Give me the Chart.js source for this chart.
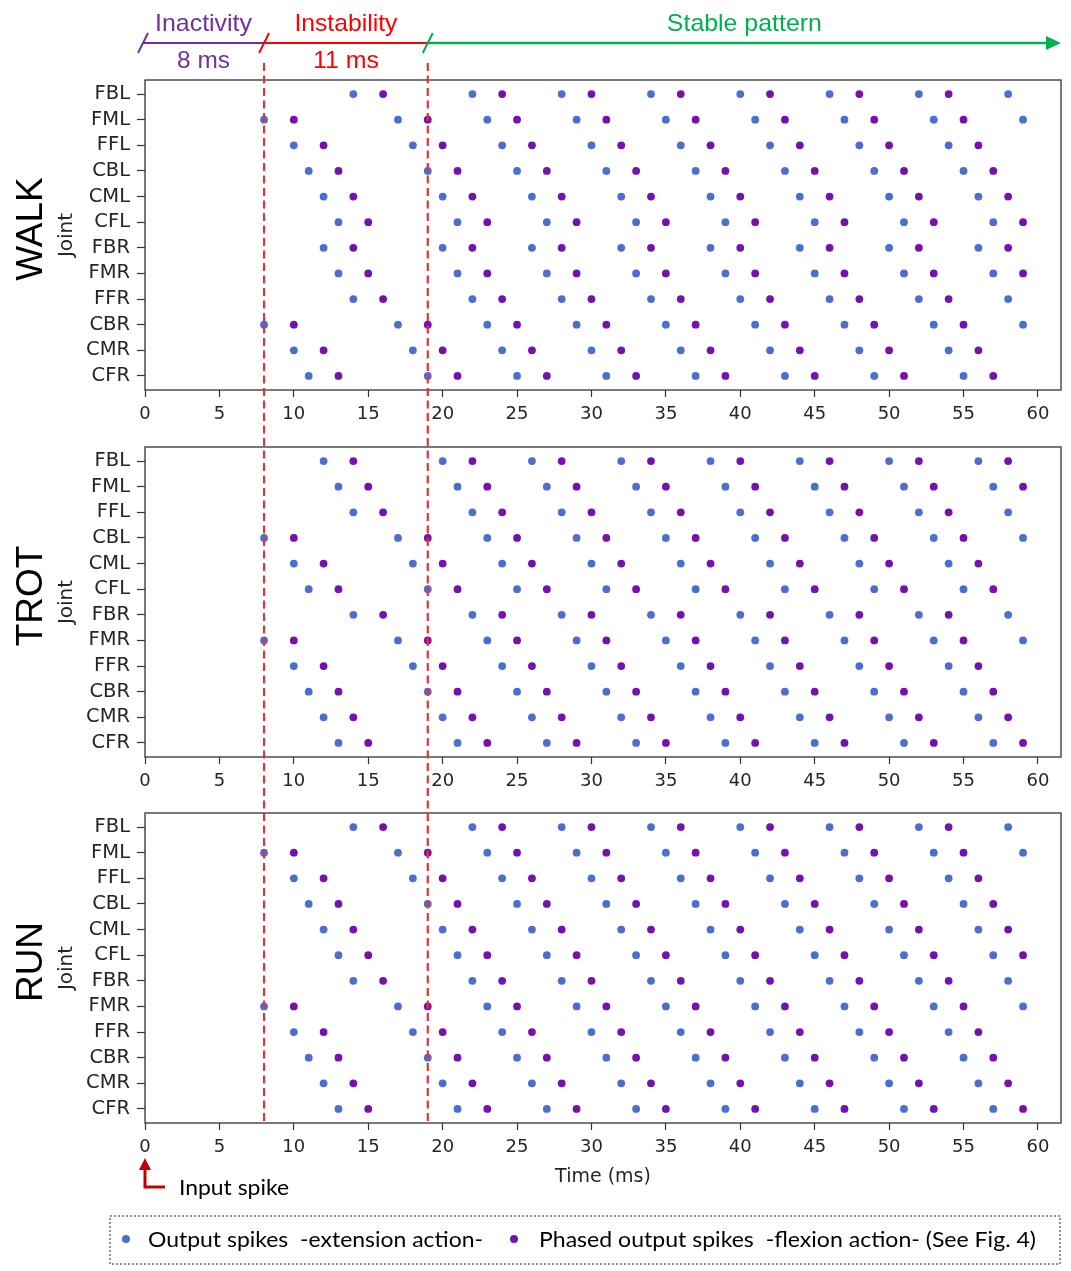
<!DOCTYPE html>
<html>
<head>
<meta charset="utf-8">
<script src="https://cdn.jsdelivr.net/npm/chart.js@4.4.1/dist/chart.umd.min.js"></script>
<style>
  body { margin: 0; background: #fff; }
  #page { position: relative; width: 1071px; height: 1271px; overflow: hidden; }
  #page canvas { position: absolute; left: 0; }
  #overlay { position: absolute; left: 0; top: 0; pointer-events: none; }
</style>
</head>
<body>
<div id="page">
  <canvas id="walk" width="1071" height="367" style="top:68px"></canvas>
  <canvas id="trot" width="1071" height="367" style="top:435px"></canvas>
  <canvas id="run" width="1071" height="392" style="top:801px"></canvas>
  <svg id="overlay" width="1071" height="1271"></svg>
</div>
<script>
// joints, top to bottom
const joints = ['FBL', 'FML', 'FFL', 'CBL', 'CML', 'CFL', 'FBR', 'FMR', 'FFR', 'CBR', 'CMR', 'CFR'];
const xTicks = [0, 5, 10, 15, 20, 25, 30, 35, 40, 45, 50, 55, 60];
const gaits = ['WALK', 'TROT', 'RUN'];
const inactivityEnd = 8;
const instabilityEnd = 19;

// spike times (ms) per joint row
const walkExt = [
  [14, 22, 28, 34, 40, 46, 52, 58],
  [8, 17, 23, 29, 35, 41, 47, 53, 59],
  [10, 18, 24, 30, 36, 42, 48, 54],
  [11, 19, 25, 31, 37, 43, 49, 55],
  [12, 20, 26, 32, 38, 44, 50, 56],
  [13, 21, 27, 33, 39, 45, 51, 57],
  [12, 20, 26, 32, 38, 44, 50, 56],
  [13, 21, 27, 33, 39, 45, 51, 57],
  [14, 22, 28, 34, 40, 46, 52, 58],
  [8, 17, 23, 29, 35, 41, 47, 53, 59],
  [10, 18, 24, 30, 36, 42, 48, 54],
  [11, 19, 25, 31, 37, 43, 49, 55]
];
const walkFlex = [
  [16, 24, 30, 36, 42, 48, 54],
  [10, 19, 25, 31, 37, 43, 49, 55],
  [12, 20, 26, 32, 38, 44, 50, 56],
  [13, 21, 27, 33, 39, 45, 51, 57],
  [14, 22, 28, 34, 40, 46, 52, 58],
  [15, 23, 29, 35, 41, 47, 53, 59],
  [14, 22, 28, 34, 40, 46, 52, 58],
  [15, 23, 29, 35, 41, 47, 53, 59],
  [16, 24, 30, 36, 42, 48, 54],
  [10, 19, 25, 31, 37, 43, 49, 55],
  [12, 20, 26, 32, 38, 44, 50, 56],
  [13, 21, 27, 33, 39, 45, 51, 57]
];

const trotExt = [
  [12, 20, 26, 32, 38, 44, 50, 56],
  [13, 21, 27, 33, 39, 45, 51, 57],
  [14, 22, 28, 34, 40, 46, 52, 58],
  [8, 17, 23, 29, 35, 41, 47, 53, 59],
  [10, 18, 24, 30, 36, 42, 48, 54],
  [11, 19, 25, 31, 37, 43, 49, 55],
  [14, 22, 28, 34, 40, 46, 52, 58],
  [8, 17, 23, 29, 35, 41, 47, 53, 59],
  [10, 18, 24, 30, 36, 42, 48, 54],
  [11, 19, 25, 31, 37, 43, 49, 55],
  [12, 20, 26, 32, 38, 44, 50, 56],
  [13, 21, 27, 33, 39, 45, 51, 57]
];
const trotFlex = [
  [14, 22, 28, 34, 40, 46, 52, 58],
  [15, 23, 29, 35, 41, 47, 53, 59],
  [16, 24, 30, 36, 42, 48, 54],
  [10, 19, 25, 31, 37, 43, 49, 55],
  [12, 20, 26, 32, 38, 44, 50, 56],
  [13, 21, 27, 33, 39, 45, 51, 57],
  [16, 24, 30, 36, 42, 48, 54],
  [10, 19, 25, 31, 37, 43, 49, 55],
  [12, 20, 26, 32, 38, 44, 50, 56],
  [13, 21, 27, 33, 39, 45, 51, 57],
  [14, 22, 28, 34, 40, 46, 52, 58],
  [15, 23, 29, 35, 41, 47, 53, 59]
];

const runExt = [
  [14, 22, 28, 34, 40, 46, 52, 58],
  [8, 17, 23, 29, 35, 41, 47, 53, 59],
  [10, 18, 24, 30, 36, 42, 48, 54],
  [11, 19, 25, 31, 37, 43, 49, 55],
  [12, 20, 26, 32, 38, 44, 50, 56],
  [13, 21, 27, 33, 39, 45, 51, 57],
  [14, 22, 28, 34, 40, 46, 52, 58],
  [8, 17, 23, 29, 35, 41, 47, 53, 59],
  [10, 18, 24, 30, 36, 42, 48, 54],
  [11, 19, 25, 31, 37, 43, 49, 55],
  [12, 20, 26, 32, 38, 44, 50, 56],
  [13, 21, 27, 33, 39, 45, 51, 57]
];
const runFlex = [
  [16, 24, 30, 36, 42, 48, 54],
  [10, 19, 25, 31, 37, 43, 49, 55],
  [12, 20, 26, 32, 38, 44, 50, 56],
  [13, 21, 27, 33, 39, 45, 51, 57],
  [14, 22, 28, 34, 40, 46, 52, 58],
  [15, 23, 29, 35, 41, 47, 53, 59],
  [16, 24, 30, 36, 42, 48, 54],
  [10, 19, 25, 31, 37, 43, 49, 55],
  [12, 20, 26, 32, 38, 44, 50, 56],
  [13, 21, 27, 33, 39, 45, 51, 57],
  [14, 22, 28, 34, 40, 46, 52, 58],
  [15, 23, 29, 35, 41, 47, 53, 59]
];

const extColor = '#4a6fd0';
const flexColor = '#7412b0';

Chart.defaults.font.family = 'DejaVu Sans';

function toPoints(rows) {
  let pts = [];
  rows.forEach((times, j) => times.forEach(t => pts.push({x: t, y: j})));
  return pts;
}

// matplotlib style box around the plot area
const boxPlugin = {
  id: 'box',
  afterDraw(chart) {
    const a = chart.chartArea, c = chart.ctx;
    c.save();
    c.strokeStyle = '#333';
    c.lineWidth = 1.3;
    c.strokeRect(a.left, a.top, a.right - a.left, a.bottom - a.top);
    c.restore();
  }
};

const canvasTops = [68, 435, 801];

function makeChart(id, ext, flex, last) {
  const canvas = document.getElementById(id);
  const axisH = canvas.height - 12 - 310;
  return new Chart(canvas, {
    type: 'scatter',
    data: {
      datasets: [
        {label: 'Output spikes', data: toPoints(ext), backgroundColor: extColor,
         pointRadius: 3.9, pointBorderWidth: 0},
        {label: 'Phased output spikes', data: toPoints(flex), backgroundColor: flexColor,
         pointRadius: 3.9, pointBorderWidth: 0}
      ]
    },
    options: {
      responsive: false,
      animation: false,
      layout: {padding: {top: 12, right: 10, bottom: 0, left: 0}},
      plugins: {
        legend: {display: false},
        tooltip: {enabled: false}
      },
      scales: {
        x: {
          type: 'linear', min: 0, max: 61.55,
          afterBuildTicks: s => { s.ticks = xTicks.map(v => ({value: v})); },
          afterFit: s => { s.height = axisH; s.paddingLeft = 0; s.paddingRight = 0; },
          ticks: {font: {size: 18}, color: '#262626', padding: 7, maxRotation: 0, autoSkip: false},
          grid: {drawOnChartArea: false, tickLength: 7, color: '#333', tickWidth: 1.2},
          border: {display: false},
          title: {
            display: last, text: 'Time (ms)', color: '#262626',
            font: {size: 19}, padding: {top: 0, bottom: 5}
          }
        },
        y: {
          type: 'linear', min: -0.55, max: 11.55, reverse: true,
          afterBuildTicks: s => { s.ticks = joints.map((_, i) => ({value: i})); },
          afterFit: s => { s.width = 145; s.paddingTop = 0; s.paddingBottom = 0; },
          ticks: {font: {size: 19.5}, color: '#262626', padding: 7, autoSkip: false,
                  callback: v => joints[Math.round(v)]},
          grid: {drawOnChartArea: false, tickLength: 8, color: '#333', tickWidth: 1.2},
          border: {display: false},
          title: {display: true, text: 'Joint', color: '#262626', font: {size: 20},
                  padding: {top: 55, bottom: 0}}
        }
      }
    },
    plugins: [boxPlugin]
  });
}

const charts = [
  makeChart('walk', walkExt, walkFlex, false),
  makeChart('trot', trotExt, trotFlex, false),
  makeChart('run', runExt, runFlex, true)
];

// annotations drawn from the first chart's time scale
const sx = charts[0].scales.x;
const p0 = sx.getPixelForValue(0) - 2;
const p8 = sx.getPixelForValue(inactivityEnd);
const p19 = sx.getPixelForValue(instabilityEnd);
const pEnd = sx.right;
const yBottom = canvasTops[2] + charts[2].chartArea.bottom - 2;
const lineY = 43;
const purple = '#7030A0', red = '#FF0000', green = '#00B050';

function slash(x, col) {
  return `<line x1="${x - 5}" y1="${lineY + 10}" x2="${x + 5}" y2="${lineY - 10}" stroke="${col}" stroke-width="2"/>`;
}
function label(x, y, txt, col, size, fam, len) {
  return `<text x="${x}" y="${y}" fill="${col}" font-family="${fam}" font-size="${size}" text-anchor="middle"` +
    (len ? ` textLength="${len}" lengthAdjust="spacingAndGlyphs"` : '') +
    ` style="white-space:pre">${txt}</text>`;
}

let svg = '';
// gait names, rotated beside each panel
charts.forEach((ch, i) => {
  const cy = canvasTops[i] + (ch.chartArea.top + ch.chartArea.bottom) / 2 - 6;
  svg += `<text x="0" y="0" transform="translate(42 ${cy}) rotate(-90)" fill="#000" font-family="Liberation Sans" font-size="37" text-anchor="middle">${gaits[i]}</text>`;
});

// phase bar
svg += `<line x1="${p0}" y1="${lineY}" x2="${p8}" y2="${lineY}" stroke="${purple}" stroke-width="2"/>`;
svg += `<line x1="${p8}" y1="${lineY}" x2="${p19}" y2="${lineY}" stroke="${red}" stroke-width="2"/>`;
svg += `<line x1="${p19}" y1="${lineY}" x2="${pEnd - 12}" y2="${lineY}" stroke="${green}" stroke-width="2.5"/>`;
svg += `<polygon points="${pEnd - 15},${lineY - 7} ${pEnd},${lineY} ${pEnd - 15},${lineY + 7}" fill="${green}"/>`;
svg += slash(p0, purple) + slash(p8, red) + slash(p19, green);
svg += label((p0 + p8) / 2, 31, 'Inactivity', purple, 24, 'Liberation Sans', 97);
svg += label((p0 + p8) / 2, 68, '8 ms', purple, 24, 'Liberation Sans', 53);
svg += label((p8 + p19) / 2, 31, 'Instability', red, 24, 'Liberation Sans', 103);
svg += label((p8 + p19) / 2, 68, '11 ms', red, 24, 'Liberation Sans', 66);
svg += label((p19 + pEnd) / 2, 31, 'Stable pattern', green, 24, 'Liberation Sans', 155);

// phase boundaries across all panels
[p8, p19].forEach(x => {
  svg += `<line x1="${x}" y1="63" x2="${x}" y2="${yBottom}" stroke="#e03535" stroke-width="2.2" stroke-dasharray="8 4.5"/>`;
});

// input spike marker
const ix = sx.getPixelForValue(0);
svg += `<path d="M${ix} 1168 V1187 H165" fill="none" stroke="#C00000" stroke-width="3"/>`;
svg += `<polygon points="${ix - 6},1170 ${ix},1158 ${ix + 6},1170" fill="#C00000"/>`;
svg += `<text x="179" y="1195" fill="#000" font-family="Lato" font-size="22" textLength="110" lengthAdjust="spacingAndGlyphs">Input spike</text>`;

// legend box
svg += `<rect x="110" y="1216" width="950" height="48" fill="none" stroke="#222" stroke-width="1" stroke-dasharray="2 2"/>`;
svg += `<circle cx="126" cy="1239" r="4" fill="${extColor}"/>`;
svg += `<text x="148" y="1247" fill="#000" font-family="Lato" font-size="21" textLength="335" lengthAdjust="spacingAndGlyphs" style="white-space:pre">Output spikes  -extension action-</text>`;
svg += `<circle cx="514" cy="1239" r="4" fill="${flexColor}"/>`;
svg += `<text x="539" y="1247" fill="#000" font-family="Lato" font-size="21" textLength="497" lengthAdjust="spacingAndGlyphs" style="white-space:pre">Phased output spikes  -flexion action- (See Fig. 4)</text>`;

document.getElementById('overlay').innerHTML = svg;
</script>
</body>
</html>
